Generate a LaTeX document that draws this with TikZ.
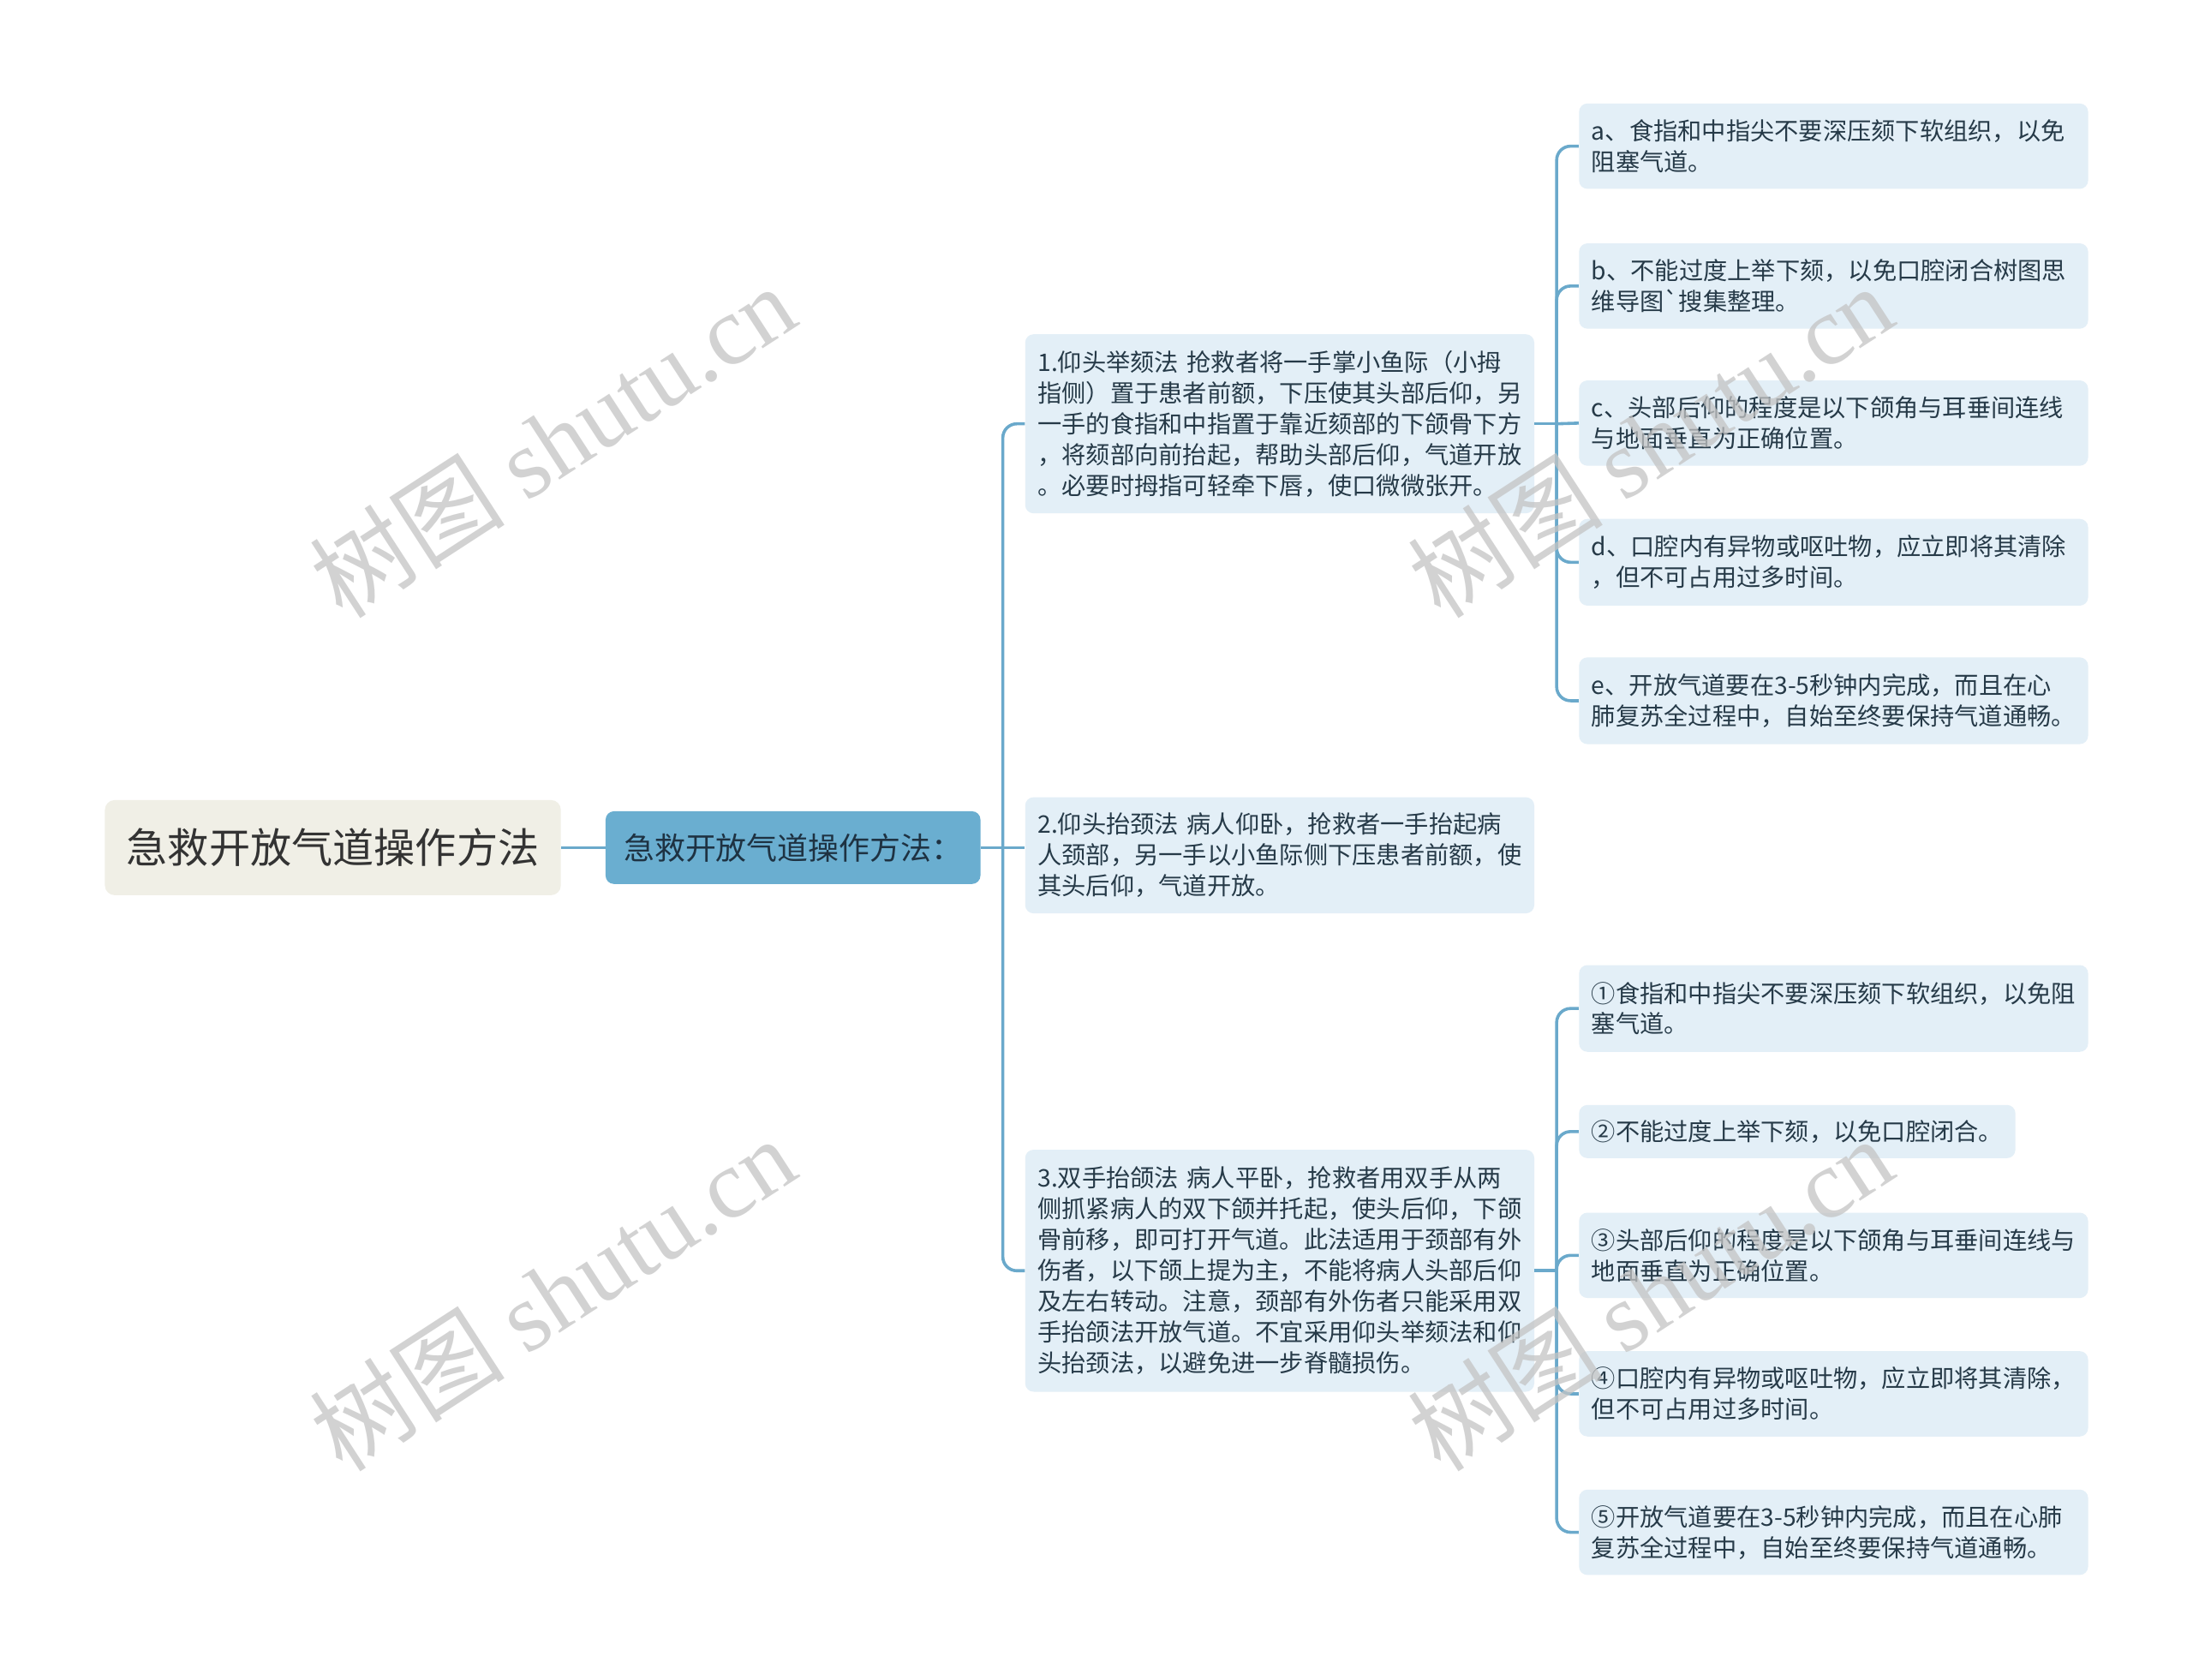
\documentclass[tikz,border=0pt]{standalone}
\usepackage{fontspec}
\setmainfont{Noto Sans CJK SC}[Ligatures=TeXOff]
\newfontfamily\wmlat{Liberation Serif}
\definecolor{rootbg}{HTML}{F0EFE6}
\definecolor{roottxt}{HTML}{333333}
\definecolor{lonebg}{HTML}{6AAED0}
\definecolor{lonetxt}{HTML}{1E3242}
\definecolor{leafbg}{HTML}{E3EFF7}
\definecolor{leaftxt}{HTML}{263A48}
\definecolor{linec}{HTML}{6AA9CB}
\definecolor{wmc}{HTML}{C4C4C4}
\tikzset{
  rootbox/.style={fill=rootbg, rounded corners=7pt, text=roottxt, font=\fontsize{29.5}{34}\selectfont, minimum width=326pt, minimum height=68pt, inner sep=0pt},
  lonebox/.style={fill=lonebg, rounded corners=6pt, text=lonetxt, font=\fontsize{22}{26}\selectfont, minimum width=268pt, minimum height=52pt, inner sep=0pt},
  leaf/.style={fill=leafbg, rounded corners=6pt, text=leaftxt, font=\fontsize{17.3}{22}\selectfont, align=left, inner xsep=9pt, inner ysep=0pt, text width=346pt},
  conn/.style={draw=linec, line width=2.2pt},
  wm/.style={text=wmc, opacity=0.75, rotate=33, font=\fontsize{70}{70}\selectfont, inner sep=0pt}
}
\begin{document}
\begin{tikzpicture}[x=1pt,y=-1pt]
\useasboundingbox[fill=white] (0,0) rectangle (1568,1201);

\node[rootbox] (root) at (238,606) {急救开放气道操作方法};
\node[lonebox] (l1) at (567,606) {急救开放气道操作方法：};

\node[leaf, minimum height=128pt] (c1) at (915,303) {1.仰头举颏法 抢救者将一手掌小鱼际（小拇\\指侧）置于患者前额，下压使其头部后仰，另\\一手的食指和中指置于靠近颏部的下颌骨下方\\，将颏部向前抬起，帮助头部后仰，气道开放\\。必要时拇指可轻牵下唇，使口微微张开。};
\node[leaf, minimum height=83pt] (c2) at (915,611.5) {2.仰头抬颈法 病人仰卧，抢救者一手抬起病\\人颈部，另一手以小鱼际侧下压患者前额，使\\其头后仰，气道开放。};
\node[leaf, minimum height=173pt] (c3) at (915,908.5) {3.双手抬颌法 病人平卧，抢救者用双手从两\\侧抓紧病人的双下颌并托起，使头后仰，下颌\\骨前移，即可打开气道。此法适用于颈部有外\\伤者，以下颌上提为主，不能将病人头部后仰\\及左右转动。注意，颈部有外伤者只能采用双\\手抬颌法开放气道。不宜采用仰头举颏法和仰\\头抬颈法，以避免进一步脊髓损伤。};

\node[leaf, minimum height=61pt] (a) at (1311,104.5) {a、食指和中指尖不要深压颏下软组织，以免\\阻塞气道。};
\node[leaf, minimum height=61pt] (b) at (1311,204.5) {b、不能过度上举下颏，以免口腔闭合树图思\\维导图`搜集整理。};
\node[leaf, minimum height=61pt] (c) at (1311,302.5) {c、头部后仰的程度是以下颌角与耳垂间连线\\与地面垂直为正确位置。};
\node[leaf, minimum height=62pt] (d) at (1311,402) {d、口腔内有异物或呕吐物，应立即将其清除\\，但不可占用过多时间。};
\node[leaf, minimum height=62pt] (e) at (1311,501) {e、开放气道要在3-5秒钟内完成，而且在心\\肺复苏全过程中，自始至终要保持气道通畅。};

\node[leaf, minimum height=62pt] (n1) at (1311,721) {①食指和中指尖不要深压颏下软组织，以免阻\\塞气道。};
\node[leaf, minimum height=38pt, text width=294pt] (n2) at (1285,809) {②不能过度上举下颏，以免口腔闭合。};
\node[leaf, minimum height=61pt] (n3) at (1311,897.5) {③头部后仰的程度是以下颌角与耳垂间连线与\\地面垂直为正确位置。};
\node[leaf, minimum height=61pt] (n4) at (1311,996.5) {④口腔内有异物或呕吐物，应立即将其清除，\\但不可占用过多时间。};
\node[leaf, minimum height=61pt] (n5) at (1311,1095.5) {⑤开放气道要在3-5秒钟内完成，而且在心肺\\复苏全过程中，自始至终要保持气道通畅。};

\coordinate (t1) at (717,606);
\coordinate (t2) at (1113,303);
\coordinate (t3) at (1113,908.5);

\draw[conn] (root.east) -- (l1.west);
\draw[conn] (l1.east) -- (t1);
\draw[conn, rounded corners=10pt] (t1) |- (c1.west);
\draw[conn] (t1) -- (c2.west |- t1);
\draw[conn, rounded corners=10pt] (t1) |- (c3.west);

\draw[conn] (c1.east) -- (t2);
\foreach \n in {a,b,d,e} {\draw[conn, rounded corners=10pt] (t2) |- (\n.west);}
\draw[conn] (t2) -- (c.west);

\draw[conn] (c3.east) -- (t3);
\foreach \n in {n1,n2,n3,n4,n5} {\draw[conn, rounded corners=10pt] (t3) |- (\n.west);}

\node[wm] (wm1) at (395,315) {树图 {\wmlat shutu.cn}};
\node[wm] (wm2) at (1180,315) {树图 {\wmlat shutu.cn}};
\node[wm] (wm3) at (395,925) {树图 {\wmlat shutu.cn}};
\node[wm] (wm4) at (1180,925) {树图 {\wmlat shutu.cn}};
\end{tikzpicture}
\end{document}
